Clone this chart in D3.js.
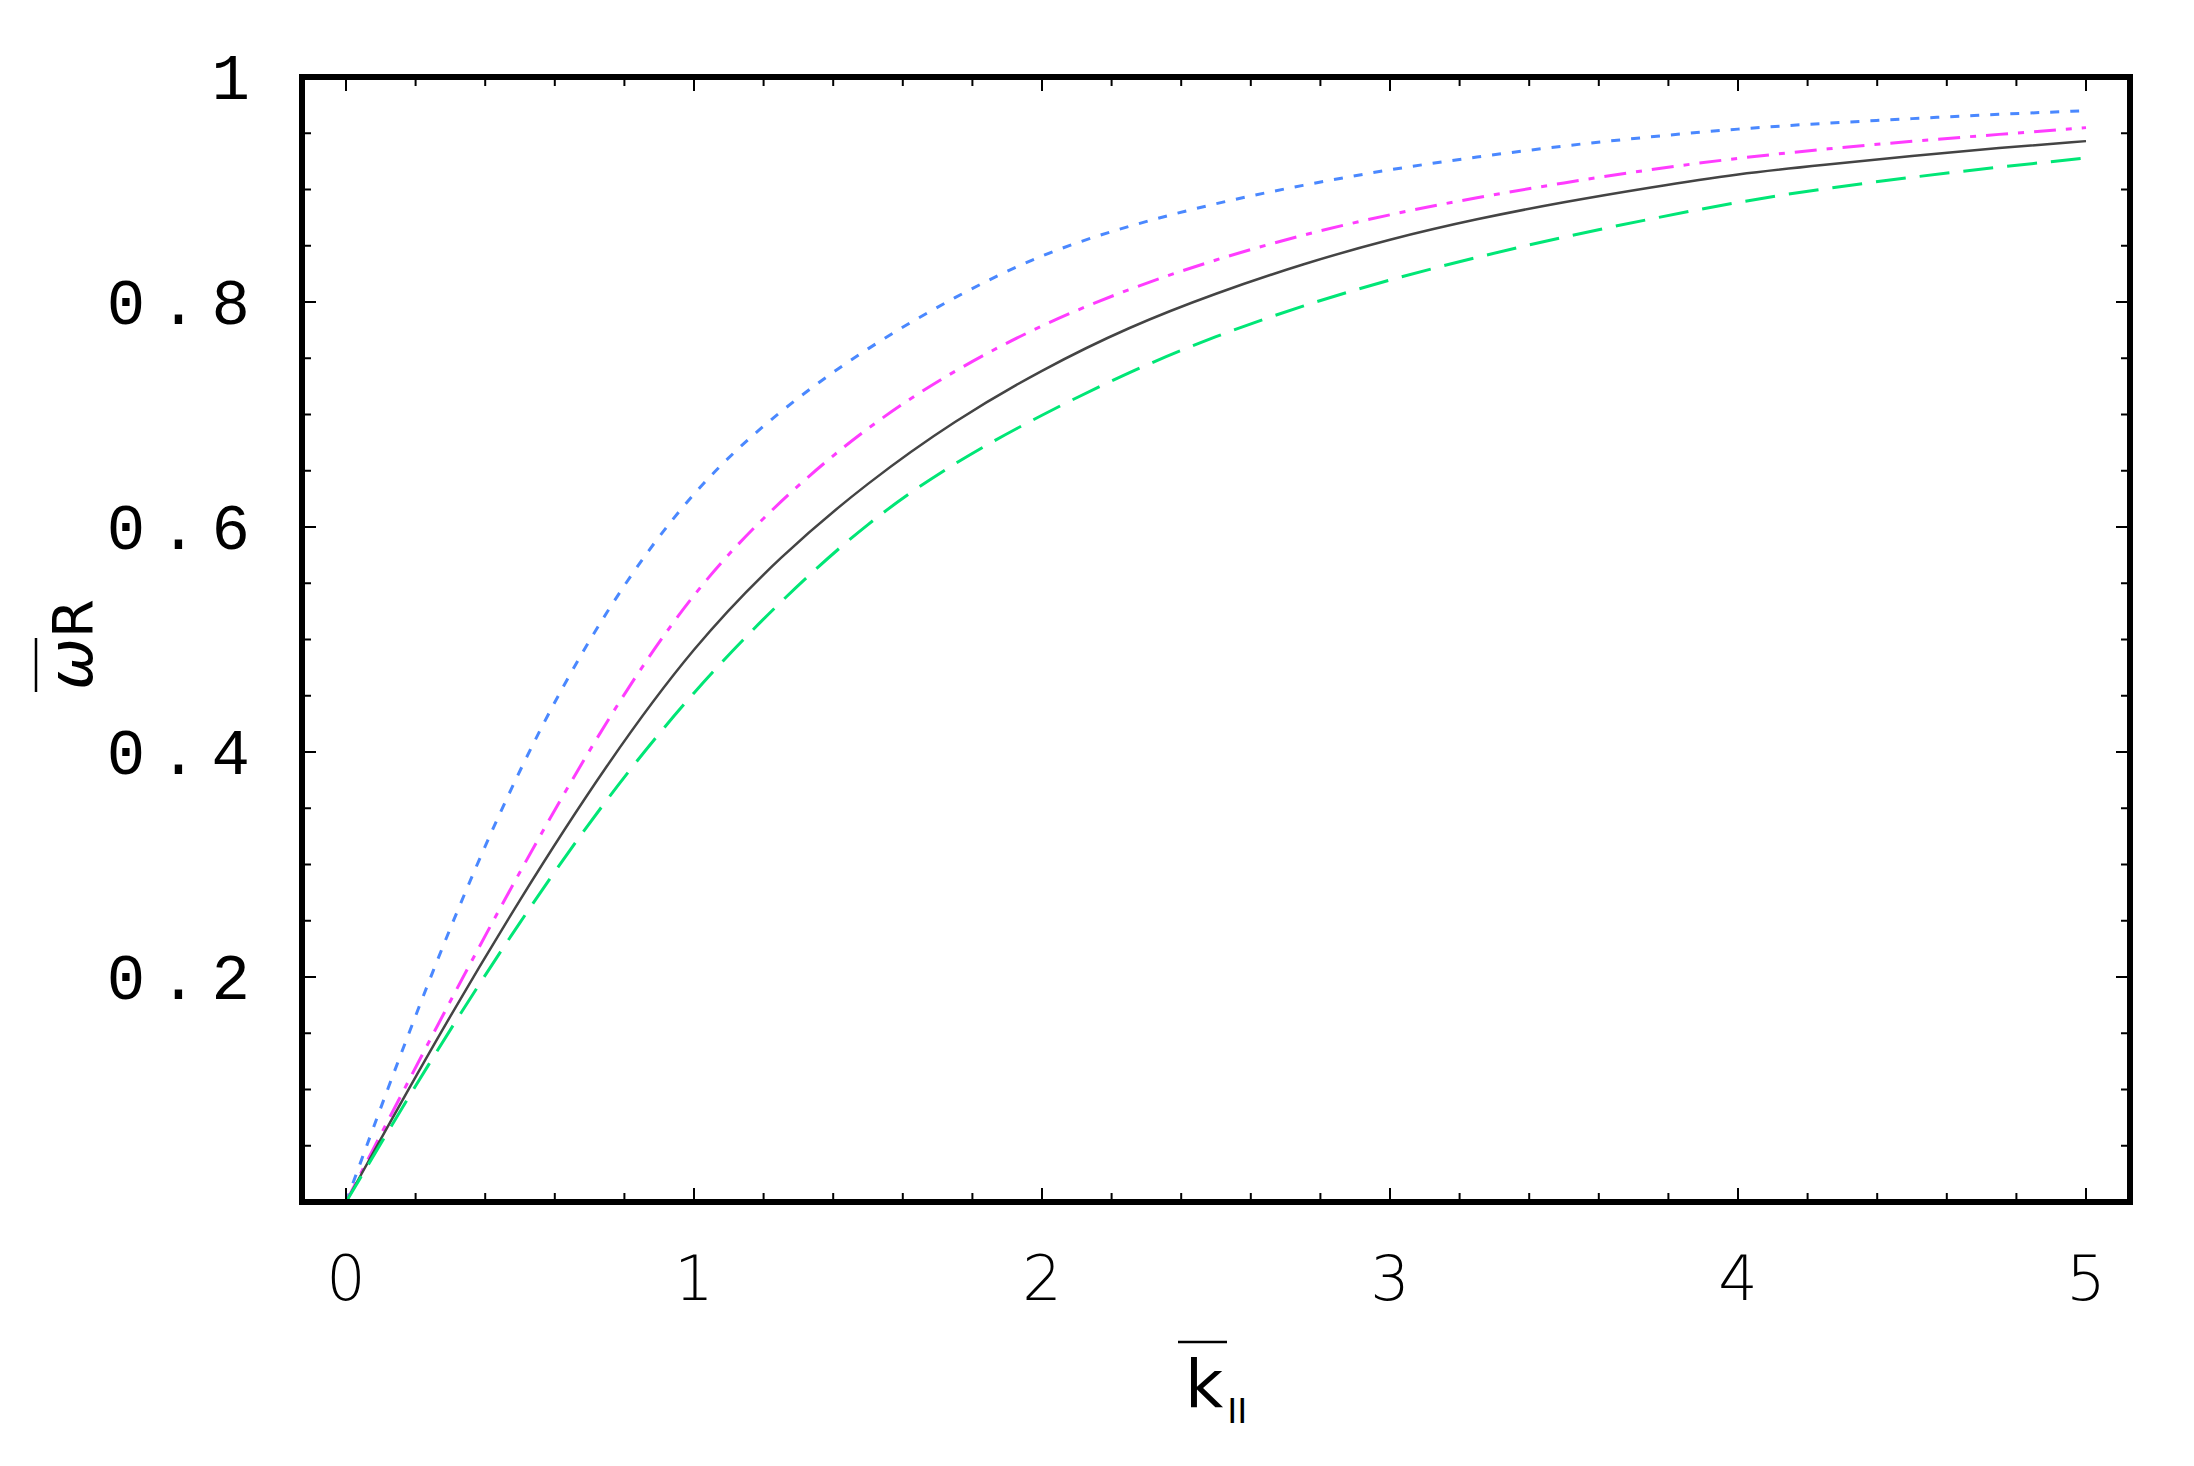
<!DOCTYPE html>
<html><head><meta charset="utf-8">
<script src="https://cdn.jsdelivr.net/npm/d3@7"></script>
<style>body{margin:0;background:#fff}</style></head>
<body><svg id="c" width="2194" height="1466"></svg>
<script>
const kValues = [0,0.25,0.5,0.75,1,1.25,1.5,1.75,2,2.25,2.5,2.75,3,3.25,3.5,3.75,4,4.25,4.5,4.75,5];
const blackSeries   = [0,0.14,0.27,0.39,0.495,0.575,0.64,0.695,0.74,0.778,0.808,0.834,0.856,0.874,0.889,0.902,0.914,0.922,0.93,0.937,0.943];
const blueSeries    = [0,0.21,0.39,0.53,0.635,0.705,0.76,0.805,0.843,0.868,0.888,0.904,0.918,0.929,0.939,0.947,0.954,0.959,0.963,0.967,0.970];
const magentaSeries = [0,0.15,0.295,0.43,0.545,0.625,0.69,0.74,0.78,0.812,0.838,0.86,0.878,0.893,0.906,0.918,0.928,0.936,0.943,0.949,0.955];
const greenSeries   = [0,0.13,0.25,0.36,0.455,0.535,0.605,0.658,0.70,0.738,0.77,0.797,0.82,0.84,0.858,0.874,0.889,0.901,0.911,0.92,0.928];
const xTicks = [0,1,2,3,4,5];
const yTicks = [0.2,0.4,0.6,0.8,1];
const yTickLabels = ["0.2","0.4","0.6","0.8","1"];

const svg = d3.select("#c");
const L=302,R=2130,T=77,B=1202;
const x = d3.scaleLinear().domain([0,5]).range([346,2086]);
const y = d3.scaleLinear().domain([0,1]).range([B,T]);

const series = [
  {v:blueSeries, c:"#4a88ff", d:"9,11", w:3},
  {v:magentaSeries, c:"#ff3cff", d:"22,10,6,10", w:3},
  {v:blackSeries, c:"#444", d:null, w:2.5},
  {v:greenSeries, c:"#00e676", d:"30,14", w:3}
];
const line = d3.line().x((d,i)=>x(kValues[i])).y(d=>y(d)).curve(d3.curveBasis);
series.forEach(s=>{
  svg.append("path").attr("d",line(s.v)).attr("fill","none").attr("stroke",s.c)
    .attr("stroke-width",s.w).attr("stroke-dasharray",s.d);
});

const g = svg.append("g").attr("stroke","#000");
d3.range(0,5.001,0.2).forEach(v=>{
  const major = Math.abs(v-Math.round(v))<1e-6;
  const len = major?14:9;
  g.append("line").attr("x1",x(v)).attr("x2",x(v)).attr("y1",B).attr("y2",B-len).attr("stroke-width",2);
  g.append("line").attr("x1",x(v)).attr("x2",x(v)).attr("y1",T).attr("y2",T+len).attr("stroke-width",2);
});
d3.range(0.05,1.0,0.05).forEach(v=>{
  const major = Math.abs(v*5-Math.round(v*5))<1e-6;
  const len = major?14:9;
  g.append("line").attr("y1",y(v)).attr("y2",y(v)).attr("x1",L).attr("x2",L+len).attr("stroke-width",2);
  g.append("line").attr("y1",y(v)).attr("y2",y(v)).attr("x1",R).attr("x2",R-len).attr("stroke-width",2);
});
svg.append("rect").attr("x",L).attr("y",T).attr("width",R-L).attr("height",B-T)
  .attr("fill","none").attr("stroke","#000").attr("stroke-width",6);

const font = "'Liberation Mono', monospace";
xTicks.forEach(v=>svg.append("text").attr("x",x(v)).attr("y",1300).attr("text-anchor","middle")
  .attr("font-family","'DejaVu Sans',sans-serif").attr("font-weight",300).attr("font-size",62).text(v));
yTicks.forEach((v,i)=>svg.append("text").attr("x",264).attr("y",y(v)+22).attr("text-anchor","end")
  .attr("font-family",font).attr("font-size",64).attr("letter-spacing",14).text(yTickLabels[i]));

const xl = svg.append("text").attr("x",1185).attr("y",1407).attr("font-family","'DejaVu Sans',sans-serif").attr("font-size",66);
xl.append("tspan").text("k");
xl.append("tspan").attr("font-size",34).attr("dy",16).attr("dx",4).text("II");
svg.append("line").attr("x1",1178).attr("x2",1227).attr("y1",1342).attr("y2",1342).attr("stroke","#000").attr("stroke-width",2.5);

const yl = svg.append("g").attr("transform","translate(92,690) rotate(-90)");
const yt = yl.append("text").attr("x",0).attr("y",0).attr("font-family","'DejaVu Sans',sans-serif").attr("font-size",62);
yt.append("tspan").attr("font-style","italic").text("ω");
yt.append("tspan").attr("font-size",56).text("R");
yl.append("line").attr("x1",-2).attr("x2",52).attr("y1",-56).attr("y2",-56).attr("stroke","#000").attr("stroke-width",2.5);
</script></body></html>
